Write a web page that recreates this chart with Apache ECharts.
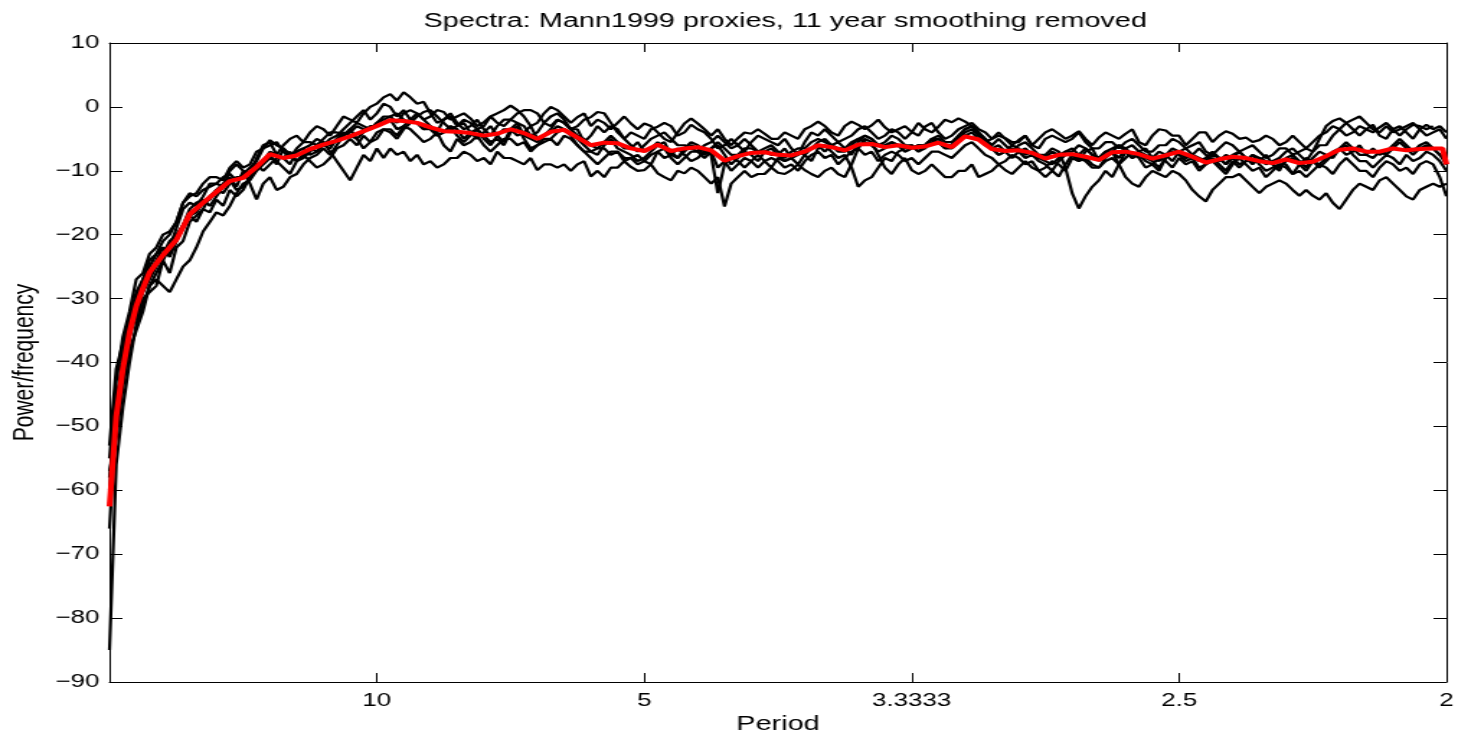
<!DOCTYPE html>
<html>
<head>
<meta charset="utf-8">
<title>Spectra: Mann1999 proxies</title>
<script src="https://cdn.jsdelivr.net/npm/echarts@6/dist/echarts.min.js"></script>
<style>
html, body { margin: 0; padding: 0; width: 1458px; height: 735px; background: #fff; overflow: hidden; }
#frame { position: absolute; left: 0; top: 0; width: 1458px; height: 735px; overflow: hidden; }
/* the original figure is stretched sideways, so draw narrow and widen it */
#spectra { position: absolute; left: 0; top: 0; width: 1012px; height: 735px; transform: scaleX(1.4407); transform-origin: 0 0; }
</style>
</head>
<body>
<div id="frame"><div id="spectra"></div></div>
<script type="text/javascript">
// frequency (cycles/year) of the mean curve; the axis shows period = 1/f
const freqMean = [0, 0.0025, 0.005, 0.0075, 0.01, 0.0125, 0.015, 0.0175,
    0.02, 0.025, 0.03, 0.035, 0.04, 0.045, 0.05, 0.055, 0.06, 0.065,
    0.07, 0.075, 0.08, 0.085, 0.09, 0.095, 0.1, 0.105, 0.11, 0.115,
    0.12, 0.125, 0.13, 0.135, 0.14, 0.145, 0.15, 0.155, 0.16, 0.165,
    0.17, 0.175, 0.18, 0.185, 0.19, 0.195, 0.2, 0.205, 0.21, 0.215,
    0.22, 0.225, 0.23, 0.235, 0.24, 0.245, 0.25, 0.255, 0.26, 0.265,
    0.27, 0.275, 0.28, 0.285, 0.29, 0.295, 0.3, 0.305, 0.31, 0.315,
    0.32, 0.325, 0.33, 0.335, 0.34, 0.345, 0.35, 0.355, 0.36, 0.365,
    0.37, 0.375, 0.38, 0.385, 0.39, 0.395, 0.4, 0.405, 0.41, 0.415,
    0.42, 0.425, 0.43, 0.435, 0.44, 0.445, 0.45, 0.455, 0.46, 0.465,
    0.47, 0.475, 0.48, 0.485, 0.49, 0.495, 0.4985, 0.5]

// frequency grid of the single proxy spectra
const freqProxy = [0, 0.0025, 0.005, 0.0075, 0.01, 0.0125, 0.015, 0.0175,
    0.02, 0.0225, 0.025, 0.0275, 0.03, 0.0325, 0.035, 0.0375,
    0.04, 0.0425, 0.045, 0.0475, 0.05, 0.0525, 0.055, 0.0575,
    0.06, 0.0625, 0.065, 0.0675, 0.07, 0.0725, 0.075, 0.0775,
    0.08, 0.0825, 0.085, 0.0875, 0.09, 0.0925, 0.095, 0.0975,
    0.1, 0.1025, 0.105, 0.1075, 0.11, 0.1125, 0.115, 0.1175,
    0.12, 0.1225, 0.125, 0.1275, 0.13, 0.1325, 0.135, 0.1375,
    0.14, 0.1425, 0.145, 0.1475, 0.15, 0.1525, 0.155, 0.1575,
    0.16, 0.1625, 0.165, 0.1675, 0.17, 0.1725, 0.175, 0.1775,
    0.18, 0.1825, 0.185, 0.1875, 0.19, 0.1925, 0.195, 0.1975,
    0.2, 0.2025, 0.205, 0.2075, 0.21, 0.2125, 0.215, 0.2175,
    0.22, 0.2225, 0.225, 0.2275, 0.23, 0.2325, 0.235, 0.2375,
    0.24, 0.2425, 0.245, 0.2475, 0.25, 0.2525, 0.255, 0.2575,
    0.26, 0.2625, 0.265, 0.2675, 0.27, 0.2725, 0.275, 0.2775,
    0.28, 0.2825, 0.285, 0.2875, 0.29, 0.2925, 0.295, 0.2975,
    0.3, 0.3025, 0.305, 0.3075, 0.31, 0.3125, 0.315, 0.3175,
    0.32, 0.3225, 0.325, 0.3275, 0.33, 0.3325, 0.335, 0.3375,
    0.34, 0.3425, 0.345, 0.3475, 0.35, 0.3525, 0.355, 0.3575,
    0.36, 0.3625, 0.365, 0.3675, 0.37, 0.3725, 0.375, 0.3775,
    0.38, 0.3825, 0.385, 0.3875, 0.39, 0.3925, 0.395, 0.3975,
    0.4, 0.4025, 0.405, 0.4075, 0.41, 0.4125, 0.415, 0.4175,
    0.42, 0.4225, 0.425, 0.4275, 0.43, 0.4325, 0.435, 0.4375,
    0.44, 0.4425, 0.445, 0.4475, 0.45, 0.4525, 0.455, 0.4575,
    0.46, 0.4625, 0.465, 0.4675, 0.47, 0.4725, 0.475, 0.4775,
    0.48, 0.4825, 0.485, 0.4875, 0.49, 0.4925, 0.495, 0.4975,
    0.5]

const periodLabels = ['', '10', '5', '3.3333', '2.5', '2']

// mean spectrum (red)
const meanSpec = [-62.5, -48.5, -41, -35.3, -31.2, -28.4, -25.9, -24.5, -23.2,
    -20.8, -16.8, -15.0, -13.3, -11.6, -11.1, -9.4, -7.4, -8.0, -7.6,
    -6.6, -5.9, -5.3, -4.6, -3.8, -3.0, -2.1, -2.2, -2.5, -3.2,
    -3.8, -3.9, -4.1, -4.5, -4.2, -3.5, -4.1, -5.0, -3.9, -3.6,
    -4.8, -6.0, -5.6, -5.7, -6.5, -6.9, -5.9, -6.9, -6.5, -6.3,
    -6.8, -8.4, -7.7, -7.2, -7.1, -7.5, -7.6, -7.0, -6.0, -6.3,
    -6.8, -5.9, -5.8, -6.3, -6.0, -6.4, -6.2, -5.6, -6.3, -4.6,
    -5.1, -6.6, -6.9, -6.8, -7.2, -8.1, -7.5, -7.4, -7.8, -8.3,
    -7.1, -7.0, -7.4, -8.1, -7.6, -7.0, -7.8, -8.7, -8.2, -7.8,
    -8.0, -8.5, -8.8, -8.2, -8.8, -8.6, -7.7, -6.7, -6.5, -7.0,
    -7.0, -6.5, -6.8, -6.6, -6.5, -6.5, -9.0]

// single proxy spectra (black), on freqProxy
const proxy1 = [-85, -56, -47, -40, -34, -31, -28, -26,
    -24, -22, -19, -16, -15, -15.5, -14, -12, -12, -12.5, -10, -9, -10, -10.5, -8, -6, -5.5, -7.5, -6, -5,
    -4.5, -5.5, -4, -3, -3.5, -4.5, -3, -1.5, -2, -2.5, -1, 0, 0.5, 1.5, 2, 1, 2.3, 1.5, 0.5, 0.8,
    -1, -2.5, -2, -1, -2.5, -3.5, -3, -2, -3.5, -4.5, -3, -2, -2, -2.5, -3, -4.5, -4, -2.5, -3, -2,
    -2.5, -3.5, -3.5, -5.5, -4.5, -3, -4, -3, -3.5, -5, -4, -4.5, -5, -3.5, -3.1, -2.5, -3, -4.5, -4, -2.8,
    -3.5, -4, -5, -6.5, -6, -5, -6, -7, -5.5, -4.5, -5, -5.5, -6, -5, -6.5, -7.5, -5.5, -4, -4.5, -3.5,
    -4.5, -5.5, -5, -4.5, -3.5, -3, -4, -5, -4.5, -3.5, -4, -5, -4, -2.5, -3.5, -4, -3.1, -2, -2.4, -1.8,
    -2.3, -3, -4.2, -5.5, -5, -4, -5, -6, -5.2, -4.5, -6, -5, -4, -3.5, -4.2, -5, -4.5, -3.8, -5, -6,
    -4.8, -4, -4.5, -5, -4.2, -3.5, -5.5, -6, -4.5, -3.5, -3.7, -4.5, -4.5, -6, -5, -4, -4, -5.5, -4.5, -3.8,
    -4.2, -5, -4.8, -5.5, -5.2, -4.5, -5, -6, -5.5, -4.5, -5.5, -6.5, -5.5, -4.5, -4, -3, -3.5, -4.5, -4, -3,
    -3.5, -4, -3.2, -2.5, -3.5, -4.5, -3.5, -2.8, -3, -3.5,
    -3]
const proxy2 = [-66, -48, -38, -33, -30, -27, -25, -23,
    -21, -20, -18, -15, -14, -13.5, -12, -11, -11, -11.5, -9.5, -8.5, -9.5, -9, -7, -6.5, -6, -5.5, -7, -8,
    -6.5, -5.5, -5.5, -6, -5, -4, -4, -4.5, -3.5, -2.5, -3, -3.5, -2.5, -1.5, -1.5, -2.5, -1, -0.5, -1, -2,
    -1.5, -0.5, -0.8, -2, -1.5, -1, -1.8, -3, -2.4, -1.5, -1, -0.5, 0.2, -0.5, -1.5, -3, -2.5, -1, 0, -0.5,
    -1.5, -2.5, -1.6, -1, -3, -2, -2.5, -3.5, -2.5, -1.5, -2.6, -3.5, -2.6, -3, -4, -5, -5.5, -4, -2.6, -1.8,
    -2.6, -3.5, -4.5, -3.5, -5, -6, -4.9, -4, -4.2, -3.5, -4.2, -5, -5, -4, -4.5, -5, -3.5, -3, -2.3, -3,
    -4, -4.5, -3, -2.3, -2.8, -3.5, -2.9, -2, -3.2, -4, -3.5, -3, -3.9, -4.5, -3.1, -2.5, -4, -5, -4.5, -3.5,
    -3, -2.5, -3.5, -4, -5, -4.5, -4.9, -5.5, -5.5, -4.5, -6, -6.5, -5, -4.5, -5, -5.5, -5, -4, -5.5, -6.5,
    -6.5, -5.5, -5.5, -6.5, -5.5, -5, -6, -7, -7, -6, -6, -5, -5.5, -6.5, -6, -5.5, -7, -7.5, -6.5, -5.5,
    -6, -7, -6.5, -6, -7, -8, -7.5, -6.5, -6.5, -7.5, -7, -6.5, -7, -5, -3, -2.2, -1.8, -2.5, -2, -1.5,
    -2.5, -3.5, -4, -3, -4, -3.5, -3, -2.5, -3.5, -4.5, -4, -3.5,
    -5]
const proxy3 = [-60, -45, -42, -35, -31, -28, -26, -24,
    -22, -23, -21, -18.5, -17, -16.5, -15, -14.5, -13, -13.5, -12, -11, -11, -10.5, -9, -8.5, -7, -7.5, -8, -7,
    -8.5, -8, -7, -6, -6, -6.5, -5, -4, -4.5, -5, -4, -3, -3, -2.5, -2, -3.5, -3, -2, -2.5, -3.5,
    -3.5, -4.5, -4, -3, -3.5, -5, -4, -3.5, -5, -6, -4.5, -3.5, -3.5, -4.5, -4, -3, -5, -4.5, -3.5, -2,
    -2.5, -3.5, -4.5, -5, -6, -6.5, -5.5, -4.5, -5.5, -6.5, -6.5, -5.5, -7, -6.5, -5.5, -6.5, -7, -8, -6.5, -5.5,
    -6, -7, -6.5, -6, -7.5, -9, -8, -7, -7.5, -8.5, -7, -6.5, -7.5, -8.5, -8, -7.5, -7, -6.5, -5.5, -5,
    -6, -7, -7, -6, -5, -5.5, -6, -7, -6.5, -5.5, -6, -7, -6.5, -6, -6, -5, -5.5, -6.5, -6.5, -5.5,
    -4.5, -4, -5, -6, -6.5, -7.5, -7, -6, -6.5, -7.5, -7, -8, -8, -7, -7.5, -7, -6.5, -7.5, -6.5, -7.5,
    -8, -7, -7, -8, -6.5, -6, -7, -7.5, -8, -8.5, -7.5, -6.5, -7, -8, -7.5, -8, -8.5, -7.5, -8, -9,
    -8, -7, -8, -9, -8, -8.5, -9, -9.5, -8.5, -8, -9, -10, -8.5, -9, -8, -7, -6.5, -7.5, -7, -6,
    -7.5, -8, -7, -7.5, -6.5, -5.5, -6.5, -7.5, -6.5, -6, -6.5, -7.5,
    -8]
const proxy4 = [-57, -52, -44, -38, -35, -32, -28, -27,
    -28, -29, -27, -25, -24, -22, -19.5, -18, -16.5, -17, -15.5, -13.5, -12, -11.5, -10, -9, -8, -8.5, -9.5, -10.5,
    -8.5, -7.5, -8.5, -9.5, -9, -8, -6.5, -6, -5, -6, -4.5, -5.5, -4, -3.5, -3.5, -4.5, -3, -3.5, -4.5, -5.5,
    -5, -4, -6, -7, -5, -6, -5.5, -4.5, -6, -7, -6, -5, -5, -6, -5.5, -7, -6, -5.5, -5, -6,
    -4.5, -5, -6, -7, -7, -6.5, -6.5, -7.5, -7, -8.5, -8, -7.5, -8.5, -9, -7, -6.5, -8, -9, -8, -7,
    -7, -8, -7, -9.5, -8.5, -10, -9, -8, -8.5, -9.5, -8.5, -8, -8.5, -9.5, -9, -10, -8.5, -7.5, -7, -8,
    -7.5, -9, -8, -7, -6.5, -7.5, -7, -8.5, -7.5, -7, -7.5, -8.5, -8, -9, -8, -7, -7, -7.5, -8, -7,
    -6, -5.5, -6.5, -7.5, -8, -9, -8.5, -7.5, -8, -9, -8.5, -10, -9.5, -8.5, -9, -10, -8, -8.5, -8, -9,
    -9.5, -8.5, -8, -9, -8, -7, -8, -9.5, -9, -8, -8.5, -9.5, -8, -9, -8.5, -10, -9, -8.5, -9.5, -10.5,
    -9, -8, -9, -10, -9.5, -11, -10, -9, -9.5, -10.5, -10, -11, -10, -9, -9.5, -10.5, -9, -8, -9, -10,
    -10, -11, -9.5, -8.5, -9, -10, -9.5, -10.5, -9, -8.5, -9, -11,
    -14]
const proxy5 = [-55, -43, -36, -32, -27, -26, -23, -22,
    -20, -19.5, -18, -15, -13.5, -14, -13, -12.5, -12, -11, -10.5, -11.5, -10.5, -9.5, -8.5, -6.5, -5.2, -6, -6.5, -7.5,
    -7, -6.5, -6, -5, -5.5, -6, -5, -4.5, -4, -3, -3.5, -3.5, -2.5, -2, -1.5, -1, -2, -2.5, -1.5, -0.8,
    -0.5, -1.5, -2.5, -3.5, -3, -2.5, -4, -5, -4, -3, -4.5, -5.5, -3.5, -2.5, -4.5, -5, -5.5, -4.5, -4, -3,
    -3.5, -4, -5, -6, -7, -7.5, -6, -5, -6.5, -7, -7.5, -8.5, -8, -7, -6, -5.5, -7.5, -8, -7, -6,
    -6.5, -7.5, -6.5, -5.5, -6.5, -7.5, -7.5, -6.5, -6.5, -7, -6.5, -6, -7, -8, -7, -6.5, -6.5, -5.5, -5, -5.5,
    -6, -6.5, -6.5, -5.5, -5, -4.5, -5, -6, -6, -5.5, -6, -7, -6.5, -6, -6, -5, -5, -6, -6, -5,
    -4, -3.5, -4.5, -5.5, -6.5, -6, -7, -8, -7, -6.5, -7.5, -8, -8.5, -9, -8, -7, -7, -6, -6.5, -7.5,
    -8, -7, -6.5, -6, -7, -8, -7, -6.5, -8, -7, -7.5, -8.5, -7, -6.5, -7.5, -8.5, -8, -7, -8, -9,
    -7.5, -7, -8, -8.5, -8.5, -7.5, -9, -10, -8, -7.5, -8.5, -9.5, -8, -7, -7.5, -8, -6.5, -5.5, -6.5, -7.5,
    -7.5, -6.5, -7.5, -7, -6, -5, -6, -7, -6, -5.5, -6.5, -7.5,
    -9]
const proxy6 = [-62, -50, -43, -36, -32, -29, -27, -25,
    -23, -21, -20, -18.5, -16, -15, -14.5, -15.5, -14, -12.5, -11.5, -13, -12.5, -11, -9, -10, -9, -8, -8, -9,
    -7, -6.5, -7.5, -7, -6, -5, -4.5, -3.5, -2.5, -1.5, -0.5, -2, -1, 0.5, 0, -1.5, -0.5, -2, -1, -2,
    -3, -4, -2, -1.5, -3, -2, -2.5, -3.5, -3, -1.5, -2.5, -3, -2, -1, -0.5, -0.5, -1, -2.5, -1.5, -1,
    -2, -3.5, -3, -2, -1.6, -0.8, -1, -2.5, -4, -5, -6, -7, -6, -5, -4.5, -4, -5, -6, -6, -6.5,
    -7, -6, -5.5, -4.5, -5.5, -6.5, -6, -5, -6, -7, -7, -7.5, -7.5, -6.5, -8, -9, -7.5, -8.5, -6.5, -6,
    -7, -8, -7.5, -9.5, -12.5, -11.5, -11, -9.5, -8, -8.5, -7, -6.5, -6, -7, -6.5, -5.5, -5.5, -6.5, -6, -4.5,
    -3.5, -3, -4, -5, -6.5, -7.5, -7, -6.5, -7, -8, -7.5, -8.5, -9, -10, -8.5, -7.5, -7.5, -8.5, -7, -6.5,
    -8.5, -7.5, -7, -6, -6.5, -7.5, -7, -8, -8.5, -9.5, -8, -7, -7.5, -8.5, -8, -9.5, -9, -8, -9, -10,
    -8.5, -9.5, -8.5, -7.5, -9, -10, -9.5, -9, -9, -10.5, -9, -8, -8.5, -9.5, -8.5, -7.5, -6.5, -6, -7.5, -8.5,
    -8.5, -9.5, -8.5, -7.5, -8, -9, -7.5, -8.5, -8, -7, -7.5, -8.5,
    -10]
const proxy7 = [-53, -41, -37, -33, -29, -27, -24, -23,
    -22, -23.5, -21, -19, -17, -18, -16, -14, -13, -12, -11, -12.5, -10, -12, -14.5, -12, -11, -13, -12.5, -11,
    -10.5, -9, -8, -7.5, -6.5, -7.5, -6, -4.5, -3.5, -5, -6.5, -5.5, -5, -3.5, -4, -5, -3.5, -2.5, -2.5, -3.5,
    -3, -4.5, -4, -3, -4.5, -5.5, -4.5, -3.5, -4.5, -5.5, -5, -6, -4, -3, -5, -6.5, -6, -5, -5, -4,
    -3.5, -4.5, -6, -7, -8, -9, -8, -7, -7, -8, -8, -9, -8.5, -7.5, -7, -8, -7.5, -6.5, -7.5, -8.5,
    -8, -7, -7.5, -13.5, -9, -8, -8.5, -9.5, -8.5, -7.5, -8.5, -9.5, -8, -8.5, -8, -7, -7.5, -6.5, -6, -7,
    -6, -5.5, -6.5, -7.5, -5.5, -4.5, -5, -6, -5.5, -4.5, -5, -6, -6, -7, -6, -5, -4.5, -5.5, -5.5, -4.5,
    -3.5, -3, -4, -5, -6, -5, -6, -7, -6, -5.5, -6.5, -7.5, -7.5, -6.5, -7, -9.5, -13.5, -15.9, -14, -12.5,
    -11.5, -10, -11, -9, -7, -8, -7.5, -8.5, -9, -10, -8, -7, -7, -8, -7.5, -6.5, -7.5, -8.5, -8.5, -7.5,
    -8, -9, -8.5, -7.5, -8, -9, -8.5, -8, -7, -6.5, -7.5, -8.5, -7, -6, -6, -4.5, -3.5, -2.5, -3.5, -4.5,
    -3.5, -2.8, -4.5, -5, -3.5, -3, -4, -5, -3.5, -2.8, -3.5, -3,
    -4]
const proxy8 = [-58, -47, -40, -35, -33, -30, -29, -28,
    -24, -26, -22, -21, -18, -17, -16, -16.5, -14.5, -15.5, -13, -14, -13, -11, -9, -8.5, -7.5, -9, -6.5, -7.5,
    -8.5, -7.5, -6.5, -7, -5.5, -7, -8.5, -10, -11.5, -9.5, -7.5, -8.5, -6.5, -8, -6.5, -7.5, -7, -8.5, -7.5, -9,
    -8.5, -9.5, -9, -8, -8, -7, -7.5, -8.5, -8, -9, -7, -8, -8, -8.5, -9, -8, -9.9, -9, -9, -9.5,
    -9, -10, -9, -8.5, -10.9, -10, -11, -9.5, -9.5, -8.5, -9.4, -10, -9.9, -9, -10.4, -11, -11.5, -10, -10.4, -9.5,
    -10, -11, -12, -11, -15.6, -12, -11, -10, -11, -10.5, -10.5, -9.5, -10.3, -10.5, -9.9, -9, -9.9, -10.5, -11, -10,
    -9.5, -10.5, -11, -9, -6.5, -5, -5.5, -7.5, -9.5, -10.5, -9, -8, -9.9, -10.5, -10, -9, -10, -11, -11, -10,
    -10, -9, -11, -10.5, -10, -9, -9.9, -10.5, -9.5, -8.5, -9.5, -10, -11, -10, -10.9, -9, -7.5, -8, -8.5, -9.5,
    -9.5, -8, -7, -9, -11, -12, -12.5, -11, -10, -10.5, -11, -10, -10.5, -11.5, -13, -14, -14.8, -13, -12, -11,
    -11, -10.5, -11.5, -12.5, -13.5, -12.5, -12, -11.5, -12, -13, -13.9, -13, -13.9, -14.5, -13.5, -15, -16, -14.5, -13, -12,
    -12.5, -13, -11.5, -11, -12, -13, -14, -14.5, -13, -12.5, -12, -12.5,
    -12]

const fontFamily = "'Liberation Sans', Arial, Helvetica, sans-serif"

function toPairs(xs, values) {
    return xs.map((f, i) => [f, values[i]])
}

function minusSign(v) {
    return v < 0 ? '\u2212' + (-v) : String(v)
}

let series = [proxy1, proxy2, proxy3, proxy4, proxy5, proxy6, proxy7, proxy8].map(function (d) {
    return {
        type: 'line',
        data: toPairs(freqProxy, d),
        showSymbol: false,
        silent: true,
        z: 2,
        lineStyle: { color: '#000', width: 2.2 }
    }
})
series.push({
    type: 'line',
    data: toPairs(freqMean, meanSpec),
    showSymbol: false,
    silent: true,
    z: 3,
    lineStyle: { color: '#ff0000', width: 4 }
})

const axisLine = { show: true, onZero: false, lineStyle: { color: '#000', width: 1 } }
const axisTick = { show: true, inside: true, length: 9, lineStyle: { color: '#000' } }

let option = {
    animation: false,
    backgroundColor: '#fff',
    title: {
        text: 'Spectra: Mann1999 proxies, 11 year smoothing removed',
        left: 540,
        textAlign: 'center',
        top: 6,
        textStyle: { fontFamily: fontFamily, fontSize: 20, fontWeight: 'normal', color: '#000' }
    },
    // keep the plot box fixed; labels and names sit outside it
    grid: { left: 76, right: 8, top: 43, bottom: 53, containLabel: false, outerBoundsMode: 'none' },
    xAxis: [{
        type: 'value',
        position: 'bottom',
        min: 0,
        max: 0.5,
        interval: 0.1,
        axisLine: axisLine,
        axisTick: axisTick,
        axisLabel: {
            margin: 10,
            fontFamily: fontFamily,
            fontSize: 18,
            color: '#000',
            formatter: function (v) { return periodLabels[Math.round(v / 0.1)] }
        },
        splitLine: { show: false },
        name: 'Period',
        nameLocation: 'middle',
        nameGap: 26,
        nameTextStyle: { fontFamily: fontFamily, fontSize: 20, color: '#000' }
    }, {
        type: 'value',
        position: 'top',
        min: 0,
        max: 0.5,
        interval: 0.1,
        axisLine: axisLine,
        axisTick: axisTick,
        axisLabel: { show: false },
        splitLine: { show: false }
    }],
    yAxis: [{
        type: 'value',
        position: 'left',
        min: -90,
        max: 10,
        interval: 10,
        axisLine: axisLine,
        axisTick: axisTick,
        axisLabel: {
            margin: 7,
            fontFamily: fontFamily,
            fontSize: 18,
            color: '#000',
            formatter: minusSign
        },
        splitLine: { show: false },
        name: 'Power/frequency',
        nameLocation: 'middle',
        nameGap: 48,
        nameRotate: 90,
        nameTextStyle: { fontFamily: fontFamily, fontSize: 21, color: '#000' }
    }, {
        type: 'value',
        position: 'right',
        min: -90,
        max: 10,
        interval: 10,
        axisLine: axisLine,
        axisTick: axisTick,
        axisLabel: { show: false },
        splitLine: { show: false }
    }],
    series: series
}

let myChart = echarts.init(document.getElementById('spectra'))
myChart.setOption(option)
</script>
</body>
</html>
